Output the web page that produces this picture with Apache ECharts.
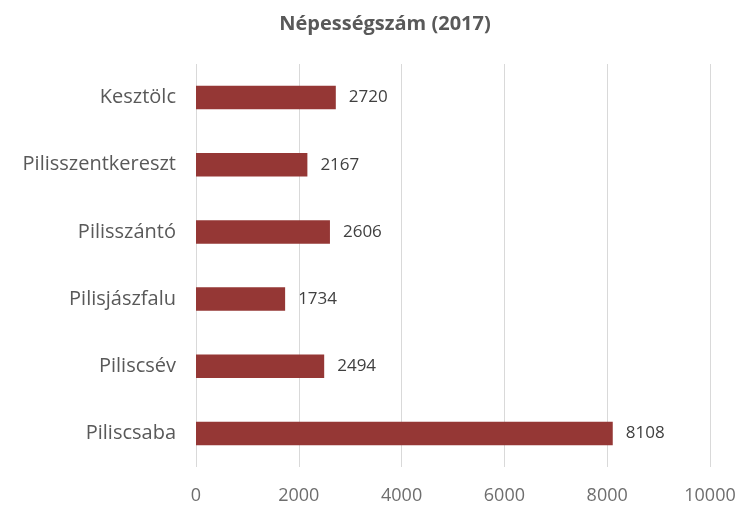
<!DOCTYPE html>
<html><head><meta charset="utf-8">
<script src="https://cdn.jsdelivr.net/npm/echarts@6/dist/echarts.min.js"></script>
<style>html,body{margin:0;padding:0;background:#fff}#c{width:741px;height:509px}</style>
</head><body><div id="c"></div>
<script>
const categories = ['Piliscsaba','Piliscsév','Pilisjászfalu','Pilisszántó','Pilisszentkereszt','Kesztölc'];
const values = [8108, 2494, 1734, 2606, 2167, 2720];
const titleText = 'Népességszám (2017)';

const chart = echarts.init(document.getElementById('c'));
chart.setOption({
  animation: false,
  backgroundColor: '#fff',
  title: {
    text: titleText, left: 380, top: 9, textAlign: 'center',
    textStyle: {fontFamily: 'Open Sans', fontSize: 20, fontWeight: 'bold', color: '#595959'}
  },
  grid: {left: 196, right: 31, top: 64, bottom: 42, containLabel: false},
  xAxis: {
    type: 'value', min: 0, max: 10000, interval: 2000,
    axisLine: {show: false}, axisTick: {show: false},
    splitLine: {lineStyle: {color: '#d9d9d9', width: 1}},
    axisLabel: {fontFamily: 'Open Sans', fontSize: 18, color: '#6e6e6e', margin: 20,
      formatter: v => String(v)}
  },
  yAxis: {
    type: 'category', data: categories,
    axisLine: {show: false}, axisTick: {show: false},
    axisLabel: {fontFamily: 'Open Sans', fontSize: 20, color: '#595959', margin: 20}
  },
  series: [{
    type: 'bar', data: values, barWidth: '35%',
    itemStyle: {color: '#953735'},
    label: {show: true, position: 'right', distance: 13, fontFamily: 'Open Sans', fontSize: 17, color: '#404040'}
  }]
});
</script></body></html>
